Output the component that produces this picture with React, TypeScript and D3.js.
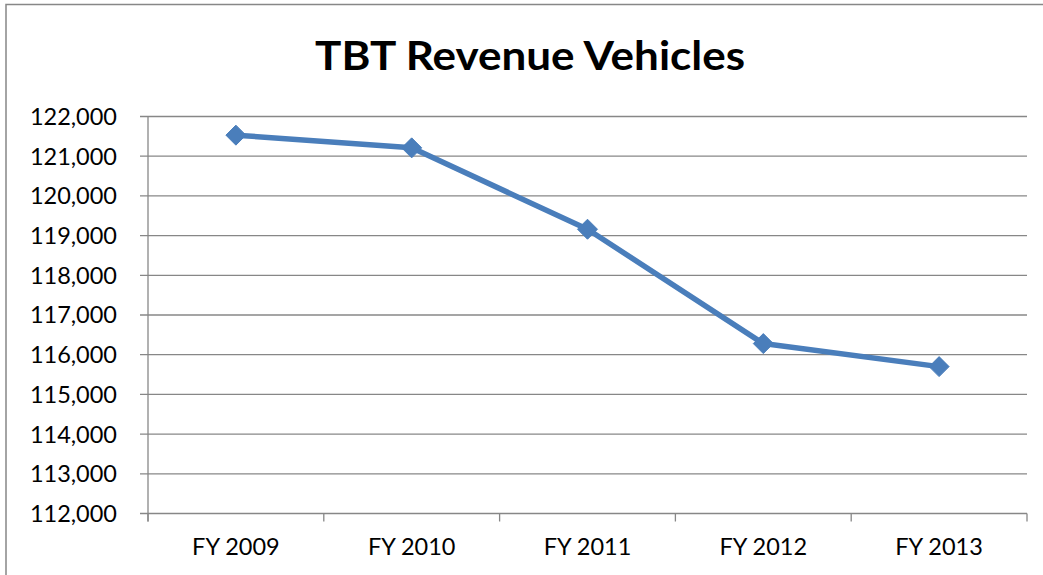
import React from "react";
import * as d3 from "d3";

const categories = ["FY 2009", "FY 2010", "FY 2011", "FY 2012", "FY 2013"];
const values = [121530, 121210, 119160, 116280, 115700];
const yTicks = [112000, 113000, 114000, 115000, 116000, 117000, 118000, 119000, 120000, 121000, 122000];
const title = "TBT Revenue Vehicles";

const W = 1043;
const H = 575;
const left = 148;
const right = 1027;
const top = 116.5;
const bottom = 513.5;
const FONT = "Lato, 'Open Sans', sans-serif";
const GRID = "#878787";
const LINE = "#4A7EBB";

export default function App() {
  const x = d3.scaleBand<string>().domain(categories).range([left, right]).padding(0);
  const y = d3.scaleLinear().domain([112000, 122000]).range([bottom, top]);
  const fmt = d3.format(",");
  const cx = (c: string) => (x(c) ?? 0) + x.bandwidth() / 2;
  const line = d3
    .line<number>()
    .x((_, i) => cx(categories[i]))
    .y((d) => y(d));
  const boundaries = [...categories.map((c) => x(c) ?? 0), right];
  const d = 10;

  return (
    <div style={{ position: "fixed", left: 0, top: 0 }}>
      <svg width={W} height={H} style={{ display: "block", background: "#fff" }}>
        <rect x={6} y={4.5} width={W + 20} height={H + 20} fill="#fff" stroke={GRID} strokeWidth={1.5} />
        <text
          x={530}
          y={70}
          textAnchor="middle"
          fontFamily={FONT}
          fontWeight="bold"
          fontSize={40}
          textLength={430}
          lengthAdjust="spacingAndGlyphs"
          fill="#000"
        >
          {title}
        </text>
        {yTicks.map((t) => (
          <g key={t}>
            <line x1={140} x2={right} y1={y(t)} y2={y(t)} stroke={GRID} strokeWidth={1.3} />
            <text
              x={117}
              y={y(t)}
              dy="0.36em"
              textAnchor="end"
              fontFamily={FONT}
              fontSize={23.5}
              fill="#000"
            >
              {fmt(t)}
            </text>
          </g>
        ))}
        <line x1={left} x2={left} y1={top} y2={521.5} stroke={GRID} strokeWidth={1.3} />
        {boundaries.map((b, i) => (
          <line key={i} x1={b} x2={b} y1={bottom} y2={521.5} stroke={GRID} strokeWidth={1.3} />
        ))}
        {categories.map((c) => (
          <text key={c} x={cx(c)} y={555} textAnchor="middle" fontFamily={FONT} fontSize={23.5} fill="#000">
            {c}
          </text>
        ))}
        <path d={line(values) ?? ""} fill="none" stroke={LINE} strokeWidth={5.5} strokeLinejoin="round" />
        {values.map((v, i) => {
          const px = cx(categories[i]);
          const py = y(v);
          return (
            <path
              key={i}
              d={`M${px},${py - d}L${px + d},${py}L${px},${py + d}L${px - d},${py}Z`}
              fill={LINE}
              stroke={LINE}
              strokeWidth={1}
            />
          );
        })}
      </svg>
    </div>
  );
}
